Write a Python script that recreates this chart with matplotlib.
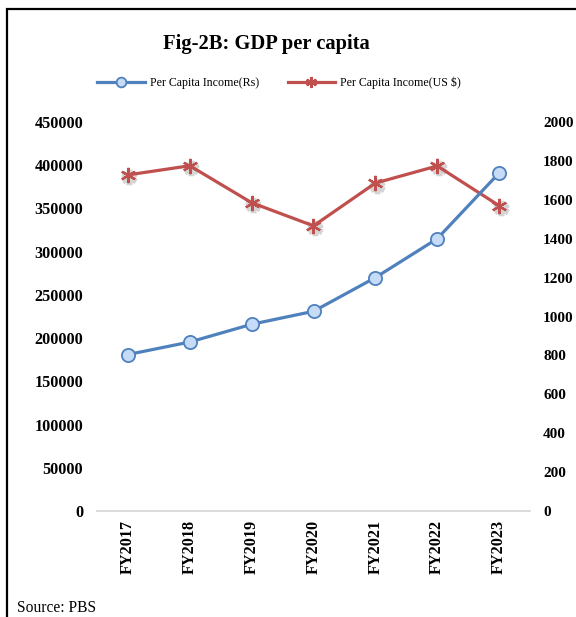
import matplotlib
matplotlib.use("Agg")
import matplotlib.pyplot as plt
import matplotlib.transforms as mtransforms
from matplotlib.patches import Rectangle

plt.rcParams["font.family"] = ["Liberation Serif", "DejaVu Serif"]

years = ["FY2017", "FY2018", "FY2019", "FY2020", "FY2021", "FY2022", "FY2023"]
income_rs = [181000, 195500, 216000, 231000, 270000, 315000, 391000]
income_usd = [1728, 1775, 1585, 1466, 1686, 1774, 1570]
left_ticks = [0, 50000, 100000, 150000, 200000, 250000, 300000, 350000, 400000, 450000]
right_ticks = [0, 200, 400, 600, 800, 1000, 1200, 1400, 1600, 1800, 2000]

BLUE = "#4f81bd"
BLUE_FILL = "#c6dbf7"
RED = "#c0504d"

fig = plt.figure(figsize=(5.76, 6.17), dpi=100)
ax = fig.add_axes([97 / 576, 1 - 511 / 617, 433 / 576, 389 / 617])
ax2 = ax.twinx()

x = list(range(len(years)))

# soft drop shadow under the markers
shadow = mtransforms.offset_copy(ax2.transData, fig=fig, x=1.5, y=-2.5, units="dots")
ax2.plot(x, income_usd, linestyle="none", marker=(6, 2, 0), markersize=11,
         markeredgewidth=4, color="#888888", alpha=0.35, transform=shadow, zorder=1)

ax.plot(x, income_rs, color=BLUE, linewidth=2.3, marker="o", markersize=9.5,
        markerfacecolor=BLUE_FILL, markeredgecolor=BLUE, markeredgewidth=1.3,
        zorder=3)
ax2.plot(x, income_usd, color=RED, linewidth=2.3, marker=(6, 2, 0),
         markersize=11, markeredgewidth=1.6, markeredgecolor=RED, zorder=2)

ax.set_xlim(-0.5, len(years) - 0.5)
ax.set_ylim(0, 450000)
ax2.set_ylim(0, 2000)

ax.set_zorder(ax2.get_zorder() + 1)
ax.patch.set_visible(False)

ax.set_yticks(left_ticks)
ax.set_yticklabels([str(t) for t in left_ticks], fontweight="bold", fontsize=11.7)
ax2.set_yticks(right_ticks)
ax2.set_yticklabels([str(t) for t in right_ticks], fontweight="bold", fontsize=11)
ax.set_xticks(x)
ax.set_xticklabels(years, rotation=90, fontweight="bold", fontsize=11.7)

ax.tick_params(axis="y", length=0, pad=10)
ax2.tick_params(axis="y", length=0, pad=9.5)
ax.tick_params(axis="x", length=0, pad=6.5)

for a in (ax, ax2):
    for s in a.spines.values():
        s.set_visible(False)
ax.spines["bottom"].set_visible(True)
ax.spines["bottom"].set_color("#d9d9d9")
ax.spines["bottom"].set_linewidth(1.3)

fig.text(266 / 576, 1 - 44 / 617, "Fig-2B: GDP per capita", ha="center",
         va="center", fontsize=14.8, fontweight="bold")

h1, = ax.plot([], [], color=BLUE, linewidth=2.3, marker="o", markersize=7,
              markerfacecolor=BLUE_FILL, markeredgecolor=BLUE, markeredgewidth=1.3)
h2, = ax.plot([], [], color=RED, linewidth=2.3, marker=(6, 2, 0), markersize=8,
              markeredgewidth=1.6)
fig.legend([h1, h2], ["Per Capita Income(Rs)", "Per Capita Income(US $)"],
           loc="center", bbox_to_anchor=(279 / 576, 1 - 83 / 617), ncol=2,
           frameon=False, fontsize=8.6, handlelength=4.0, handletextpad=0.4,
           columnspacing=2.4)

fig.text(17 / 576, 1 - 608 / 617, "Source: PBS", ha="left", va="center",
         fontsize=11.2)

# outer frame (runs off the right and bottom edges)
fig.patches.append(Rectangle((7 / 576, -0.1), 1.2, 1 - 9 / 617 + 0.1,
                             transform=fig.transFigure, fill=False,
                             edgecolor="black", linewidth=1.6))

fig.savefig("out.png", dpi=100, facecolor="white")
